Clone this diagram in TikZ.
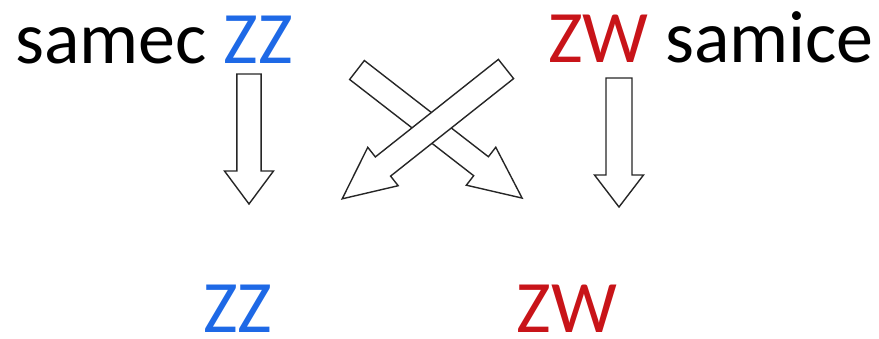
\documentclass[tikz,border=0pt]{standalone}
\usepackage{fontspec}
\setmainfont{Carlito}
\usetikzlibrary{positioning}
\definecolor{zzblue}{RGB}{30,105,230}
\definecolor{zwred}{RGB}{200,20,25}
\tikzset{
    gentext/.style={inner sep=0pt, font=\fontsize{74}{80}\selectfont},
    blockarrow/.style={draw=black!85, fill=white, line width=1.4pt, line join=miter},
}

\begin{document}
\begin{tikzpicture}[x=1pt, y=-1pt]
        \useasboundingbox (0,0) rectangle (879,338);

        % Parents
        \node[gentext, anchor=base west] (samec) at (15,63) {samec \textcolor{zzblue}{ZZ}};
        \node[gentext, anchor=base east] (samice) at (874,62) {\textcolor{zwred}{ZW} samice};

        % Offspring
        \node[gentext, anchor=base, text=zzblue] (synZZ) at (238,332) {ZZ};
        \node[gentext, anchor=base, text=zwred] (dcerZW) at (567,332) {ZW};

        % Block arrows (tail x / tail y / angle / length / shaft / head width / head length)
        \foreach \x/\y/\ang/\len/\shaft/\head/\hlen in {
            249/74/-90/130/24.3/49/33,
            619/78/-90/129/26/49/32,
            357/70/-37.8/209/24/48/52,
            506/69/-141.6/209/24.5/49/52}
            \draw[blockarrow, shift={(\x,\y)}, rotate=\ang]
                (0,{-\shaft/2}) -- ({\len-\hlen},{-\shaft/2}) -- ({\len-\hlen},{-\head/2})
                -- (\len,0) -- ({\len-\hlen},{\head/2}) -- ({\len-\hlen},{\shaft/2})
                -- (0,{\shaft/2}) -- cycle;
    \end{tikzpicture}
\end{document}
